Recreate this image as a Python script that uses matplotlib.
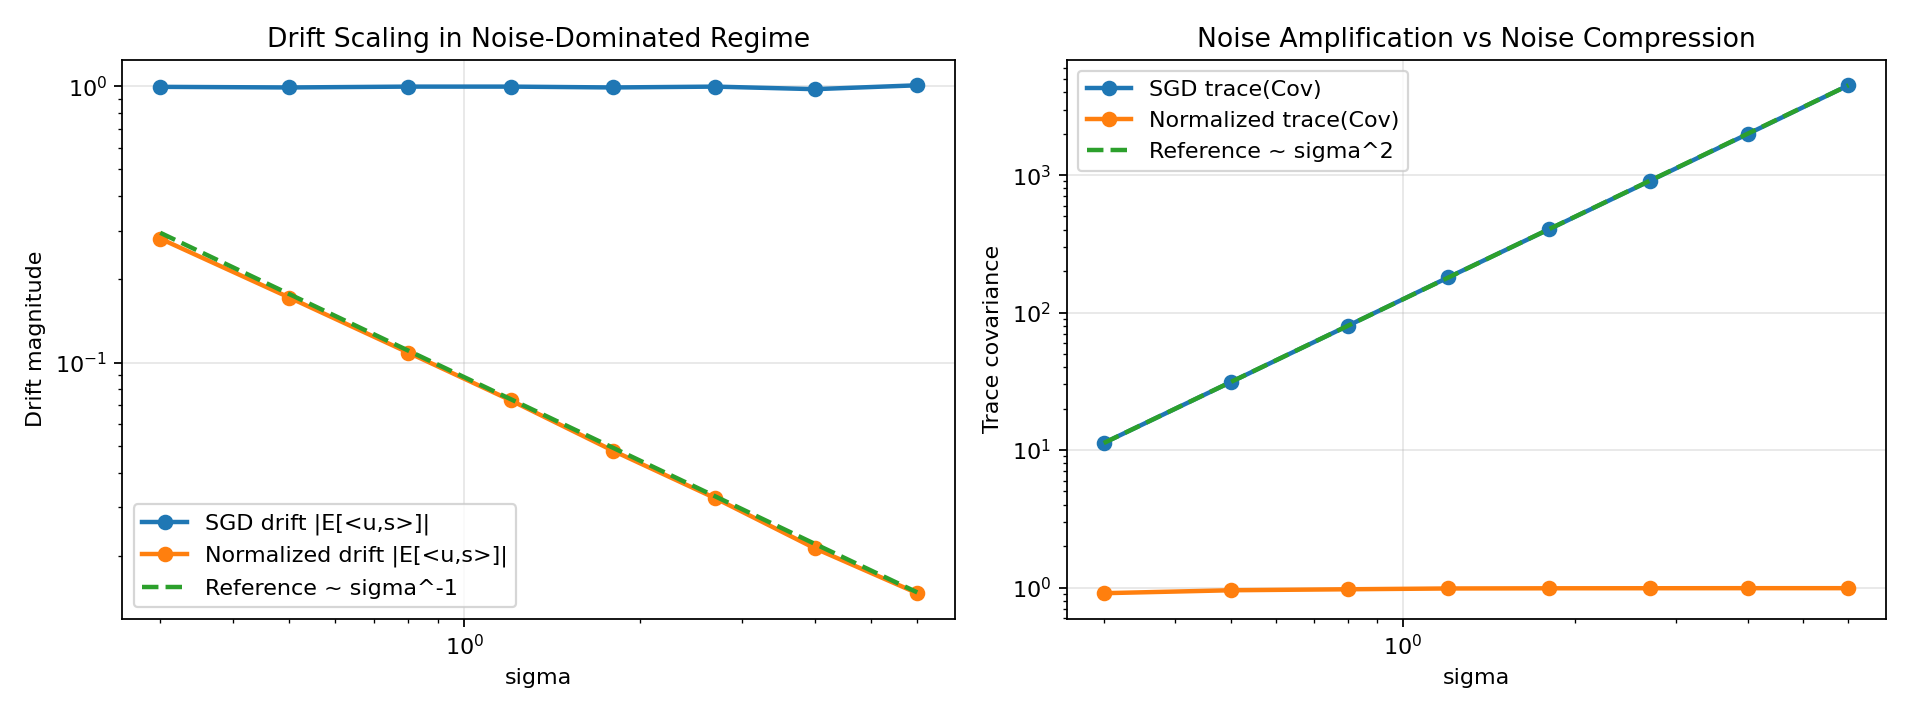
import matplotlib
matplotlib.use("Agg")
import matplotlib.pyplot as plt

sigma = [0.3, 0.5, 0.8, 1.2, 1.8, 2.7, 4.0, 6.0]

sgd_drift = [0.995, 0.990, 0.997, 0.997, 0.990, 0.997, 0.976, 1.008]
norm_drift = [0.281, 0.172, 0.1088, 0.0731, 0.0480, 0.0323, 0.0213, 0.01465]
ref_drift = [0.295, 0.177, 0.1106, 0.0738, 0.0492, 0.0328, 0.0221, 0.01475]

sgd_trace = [11.25, 31.2, 80.0, 180.5, 404.0, 908.0, 1990.0, 4500.0]
norm_trace = [0.910, 0.956, 0.972, 0.985, 0.988, 0.989, 0.990, 0.990]
ref_trace = [11.25, 31.25, 80.0, 180.0, 405.0, 911.25, 2000.0, 4500.0]

fig, (ax1, ax2) = plt.subplots(1, 2, figsize=(12, 4.5), dpi=160)

ax1.loglog(sigma, sgd_drift, "o-", lw=2, label="SGD drift |E[<u,s>]|")
ax1.loglog(sigma, norm_drift, "o-", lw=2, label="Normalized drift |E[<u,s>]|")
ax1.loglog(sigma, ref_drift, "--", lw=2, label="Reference ~ sigma^-1")
ax1.set_xlabel("sigma")
ax1.set_ylabel("Drift magnitude")
ax1.set_title("Drift Scaling in Noise-Dominated Regime")
ax1.grid(True, alpha=0.3)
ax1.legend(loc="lower left")

ax2.loglog(sigma, sgd_trace, "o-", lw=2, label="SGD trace(Cov)")
ax2.loglog(sigma, norm_trace, "o-", lw=2, label="Normalized trace(Cov)")
ax2.loglog(sigma, ref_trace, "--", lw=2, label="Reference ~ sigma^2")
ax2.set_xlabel("sigma")
ax2.set_ylabel("Trace covariance")
ax2.set_title("Noise Amplification vs Noise Compression")
ax2.grid(True, alpha=0.3)
ax2.legend(loc="upper left")

W, H = 1920.0, 720.0
bottom = 1 - 618.6 / H
height = (618.6 - 59.9) / H
ax1.set_position([122.4 / W, bottom, (955.1 - 122.4) / W, height])
ax2.set_position([1066.5 / W, bottom, (1885.7 - 1066.5) / W, height])
fig.savefig("out.png", dpi=160)
